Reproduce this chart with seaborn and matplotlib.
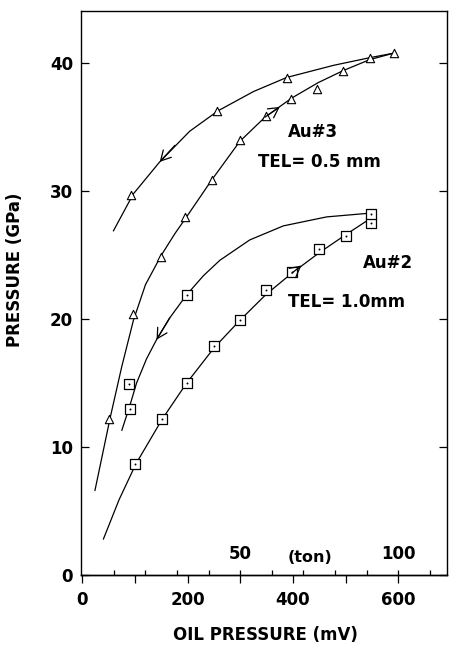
import numpy as np
import pandas as pd
import matplotlib.pyplot as plt
import seaborn as sns

sns.set_style("ticks")
plt.rcParams['font.family'] = ['DejaVu Sans']
plt.rcParams['font.weight'] = 'bold'
plt.rcParams['axes.labelweight'] = 'bold'
plt.rcParams['text.color'] = 'black'
plt.rcParams['axes.labelcolor'] = 'black'
plt.rcParams['xtick.color'] = 'black'
plt.rcParams['ytick.color'] = 'black'
plt.rcParams['axes.edgecolor'] = 'black'

# ---- data ----
# Au#3 (TEL = 0.5 mm), triangles
au3_load_x = [50, 97, 150, 196, 246, 299, 348, 396, 446, 496, 547, 591]
au3_load_y = [12.2, 20.4, 24.9, 28.0, 30.9, 34.0, 35.9, 37.2, 38.0, 39.4, 40.4, 40.8]
au3_unload_x = [93, 256, 388]
au3_unload_y = [29.7, 36.25, 38.9]

# Au#2 (TEL = 1.0 mm), squares
au2_load_x = [101, 152, 198, 251, 299, 348, 398, 450, 500, 548]
au2_load_y = [8.7, 12.2, 15.0, 17.9, 19.9, 22.3, 23.7, 25.5, 26.5, 27.5]
au2_unload_x = [548, 198, 89, 91]
au2_unload_y = [28.25, 21.9, 14.9, 12.95]

# hand-drawn guide curves
au3_load_cx = [24, 53, 75, 97, 120, 150, 176, 198, 246, 299, 347, 398, 448, 496, 546, 591]
au3_load_cy = [6.6, 12.3, 16.3, 19.9, 22.7, 25.0, 26.7, 28.0, 30.9, 33.9, 35.8, 37.3, 38.5, 39.45, 40.3, 40.8]
au3_unload_cx = [591, 546, 477, 388, 325, 258, 204, 147, 97, 59]
au3_unload_cy = [40.8, 40.45, 39.85, 38.9, 37.8, 36.3, 34.7, 32.3, 29.8, 26.9]
au2_load_cx = [40, 70, 102, 152, 198, 251, 299, 348, 398, 450, 500, 548]
au2_load_cy = [2.8, 5.9, 8.7, 12.2, 15.0, 17.8, 19.9, 21.9, 23.6, 25.2, 26.6, 27.9]
au2_unload_cx = [548, 464, 382, 318, 261, 230, 198, 166, 141, 122, 103, 90, 75]
au2_unload_cy = [28.3, 28.0, 27.3, 26.2, 24.6, 23.4, 21.9, 20.1, 18.4, 16.9, 15.0, 13.2, 11.3]

# arrows on the curves (tail -> head)
arrow_tail = [(347, 35.8), (176, 33.6), (398, 23.6), (166, 20.1)]
arrow_head = [(375, 36.6), (147, 32.3), (416, 24.2), (141, 18.4)]

ton_ticks = [10, 20, 30, 40, 50, 60, 70, 80, 90, 100, 110]
ton_labels = ["", "", "", "", "50", "", "", "", "", "100", ""]

fig = plt.figure(figsize=(4.49, 6.46), dpi=100)
ax = fig.add_axes([80.7 / 449, 71 / 646, 366 / 449, 564 / 646])

curves = [(au3_load_cx, au3_load_cy), (au3_unload_cx, au3_unload_cy),
          (au2_load_cx, au2_load_cy), (au2_unload_cx, au2_unload_cy)]
for cx, cy in curves:
    sns.lineplot(x=cx, y=cy, sort=False, estimator=None, color="black",
                 linewidth=0.9, ax=ax)

# triangles
sns.scatterplot(x=au3_load_x + au3_unload_x, y=au3_load_y + au3_unload_y,
                marker="^", s=36, color="white", edgecolor="black",
                linewidth=0.8, zorder=3, ax=ax)
# squares with a centre dot
sq_x = au2_load_x + au2_unload_x
sq_y = au2_load_y + au2_unload_y
sns.scatterplot(x=sq_x, y=sq_y, marker="s", s=42, color="white",
                edgecolor="black", linewidth=0.9, zorder=3, ax=ax)
sns.scatterplot(x=sq_x, y=sq_y, marker="o", s=2, color="black",
                linewidth=0, zorder=4, ax=ax)

for t, h in zip(arrow_tail, arrow_head):
    ax.annotate("", xy=h, xytext=t,
                arrowprops=dict(arrowstyle="->,head_length=0.55,head_width=0.3",
                                color="black", lw=0.9, mutation_scale=13,
                                shrinkA=0, shrinkB=0))

ax.text(438, 34.6, "Au#3", fontsize=12, ha="center", va="center")
ax.text(451, 32.3, "TEL= 0.5 mm", fontsize=12, ha="center", va="center")
ax.text(581, 24.4, "Au#2", fontsize=12, ha="center", va="center")
ax.text(502, 21.35, "TEL= 1.0mm", fontsize=12, ha="center", va="center")
ax.text(432, 1.35, "(ton)", fontsize=11.5, ha="center", va="center")

ax.set_xlim(-3, 692)
ax.set_ylim(0, 44.1)
ax.set_xticks([0, 200, 400, 600])
ax.set_xticks([100, 300, 500], minor=True)
ax.set_yticks([0, 10, 20, 30, 40])
ax.tick_params(axis="x", which="both", direction="out", length=5.5,
               width=0.9, pad=6, labelsize=12)
ax.tick_params(axis="y", direction="in", left=True, right=True, length=6,
               width=0.9, pad=5.5, labelsize=12)
for s in ax.spines.values():
    s.set_linewidth(1.0)
    s.set_visible(True)

# ton scale along the bottom axis, ticks pointing into the plot
sec = ax.secondary_xaxis(0, functions=(lambda v: v / 6.0, lambda t: t * 6.0))
sec.set_alignment("top")
sec.set_xticks(ton_ticks, labels=ton_labels)
sec.tick_params(direction="out", length=3.5, width=0.9, pad=5, labelsize=12)
sec.spines["top"].set_linewidth(1.0)

ax.set_xlabel("OIL PRESSURE (mV)", fontsize=12, va="center")
ax.xaxis.set_label_coords(0.505, -0.106)
ax.set_ylabel("PRESSURE (GPa)", fontsize=12, va="center")
ax.yaxis.set_label_coords(-0.18, 0.541)

fig.savefig("out.png", dpi=100)
